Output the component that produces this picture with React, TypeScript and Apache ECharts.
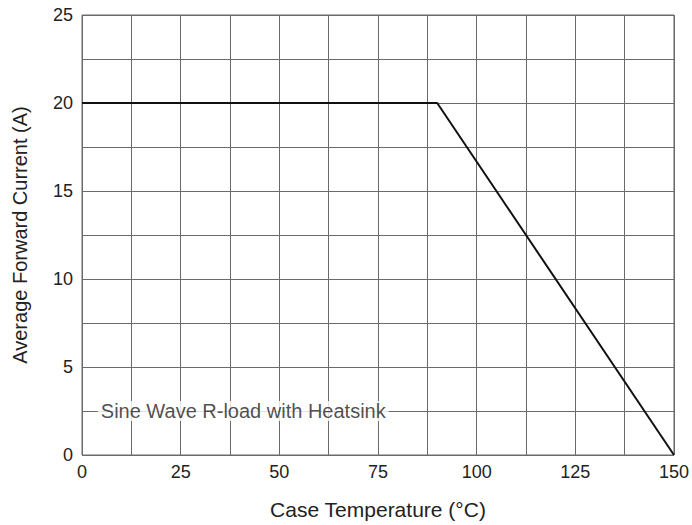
import React, { useEffect, useRef } from "react";
import * as echarts from "echarts";

const curveX = [0, 90, 150];
const curveY = [20, 20, 0];
const xLabelStep = 25;
const yLabelStep = 5;
const annotationText = "Sine Wave R-load with Heatsink";
const annotationAt = [4, 2.5];

export default function App() {
  const ref = useRef<HTMLDivElement>(null);
  useEffect(() => {
    const chart = echarts.init(ref.current!, null, { renderer: "svg" });
    const font = "'Liberation Sans', Arial, sans-serif";
    const gridColor = "#6a6a6a";
    chart.setOption({
      animation: false,
      backgroundColor: "#fff",
      grid: {
        left: 82,
        right: 16,
        top: 15,
        bottom: 70,
        show: true,
        borderColor: gridColor,
        borderWidth: 1,
        containLabel: false,
      },
      xAxis: {
        type: "value",
        min: 0,
        max: 150,
        interval: 12.5,
        name: "Case Temperature (°C)",
        nameLocation: "middle",
        nameGap: 44,
        nameTextStyle: { fontFamily: font, fontSize: 21, color: "#222" },
        axisLine: { show: false },
        axisTick: { show: false },
        axisLabel: {
          fontFamily: font,
          fontSize: 18,
          color: "#222",
          margin: 8,
          formatter: (v: number) => (v % xLabelStep === 0 ? String(v) : ""),
        },
        splitLine: { show: true, lineStyle: { color: gridColor, width: 1 } },
      },
      yAxis: {
        type: "value",
        min: 0,
        max: 25,
        interval: 2.5,
        name: "Average Forward Current (A)",
        nameLocation: "middle",
        nameGap: 52,
        nameTextStyle: { fontFamily: font, fontSize: 20, color: "#222" },
        axisLine: { show: false },
        axisTick: { show: false },
        axisLabel: {
          fontFamily: font,
          fontSize: 18,
          color: "#222",
          margin: 9,
          formatter: (v: number) => (v % yLabelStep === 0 ? String(v) : ""),
        },
        splitLine: { show: true, lineStyle: { color: gridColor, width: 1 } },
      },
      series: [
        {
          type: "line",
          data: curveX.map((x, i) => [x, curveY[i]]),
          symbol: "none",
          lineStyle: { color: "#111", width: 2 },
          z: 3,
        },
        {
          type: "scatter",
          data: [annotationAt],
          symbolSize: 0,
          silent: true,
          z: 4,
          label: {
            show: true,
            position: "right",
            distance: 0,
            formatter: annotationText,
            fontFamily: font,
            fontSize: 20,
            color: "#222",
            backgroundColor: "#fff",
            padding: [0, 3],
          },
        },
      ],
    });
    return () => chart.dispose();
  }, []);
  return (
    <div
      ref={ref}
      style={{ position: "absolute", left: 0, top: 0, width: 692, height: 525 }}
    />
  );
}
